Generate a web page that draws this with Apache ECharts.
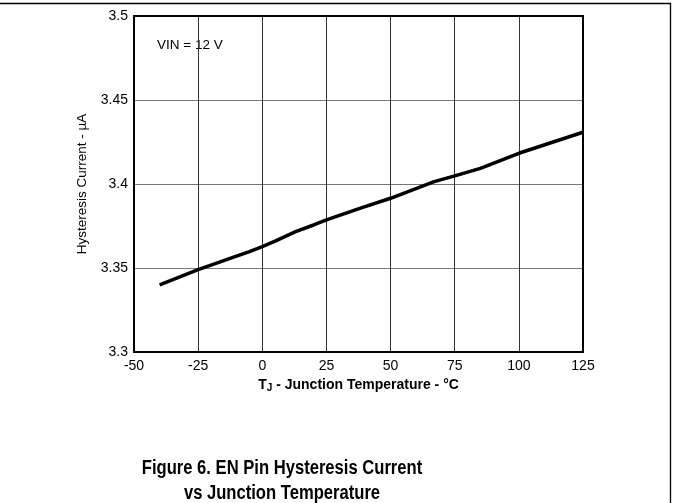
<!DOCTYPE html>
<html>
<head>
<meta charset="utf-8">
<script src="https://cdn.jsdelivr.net/npm/echarts@6/dist/echarts.min.js"></script>
<style>
html,body{margin:0;padding:0;background:#fff;}
#c{width:673px;height:503px;}
</style>
</head>
<body>
<div id="c"></div>
<script>
// Data
const tempC = [-40, -25, -12, -5, 0, 5, 13, 20, 25, 38, 50, 67, 75, 85, 100, 125];
const currentUA = [3.340, 3.349, 3.356, 3.3597, 3.3627, 3.366, 3.3716, 3.3756, 3.3786, 3.3855, 3.3915, 3.4014, 3.4048, 3.4093, 3.4183, 3.4308];
const xTicks = {min: -50, max: 125, step: 25};
const yTicks = {min: 3.3, max: 3.5, step: 0.05};
const annotation = 'VIN = 12 V';
const captionLines = ['Figure 6. EN Pin Hysteresis Current', 'vs Junction Temperature'];

const FONT = 'Liberation Sans, Arial, sans-serif';
const chart = echarts.init(document.getElementById('c'));

const borderLine = {show: true, onZero: false, lineStyle: {color: '#000', width: 2}};
const noShow = {show: false};

chart.setOption({
  animation: false,
  backgroundColor: '#fff',
  grid: {left: 134, right: 90, top: 16, bottom: 151},
  xAxis: [
    {
      type: 'value', position: 'bottom', min: xTicks.min, max: xTicks.max, interval: xTicks.step,
      z: 5, axisLine: borderLine, axisTick: noShow, splitLine: noShow,
      axisLabel: {color: '#000', fontFamily: FONT, fontSize: 14, margin: 7},
      name: '{b|T}{s|J}{b| - Junction Temperature - °C}',
      nameLocation: 'middle', nameGap: 19,
      nameTextStyle: {
        rich: {
          b: {fontFamily: FONT, fontSize: 14, fontWeight: 'bold', color: '#000'},
          s: {fontFamily: FONT, fontSize: 10, fontWeight: 'bold', color: '#000', verticalAlign: 'bottom', padding: [6, 0, 0, 0]}
        }
      }
    },
    {
      type: 'value', position: 'top', min: xTicks.min, max: xTicks.max, interval: xTicks.step,
      z: 5, axisLine: borderLine, axisTick: noShow, axisLabel: noShow, splitLine: noShow
    },
    {
      type: 'value', position: 'bottom', min: xTicks.min, max: xTicks.max, interval: xTicks.step,
      z: 0, axisLine: noShow, axisTick: noShow, axisLabel: noShow,
      splitLine: {show: true, lineStyle: {color: '#333', width: 1}}
    }
  ],
  yAxis: [
    {
      type: 'value', position: 'left', min: yTicks.min, max: yTicks.max, interval: yTicks.step,
      z: 5, axisLine: borderLine, axisTick: noShow, splitLine: noShow,
      axisLabel: {color: '#000', fontFamily: FONT, fontSize: 14, margin: 6},
      name: 'Hysteresis Current - µA', nameLocation: 'middle', nameGap: 45, nameRotate: 90,
      nameTextStyle: {fontFamily: FONT, fontSize: 13.5, color: '#000'}
    },
    {
      type: 'value', position: 'right', min: yTicks.min, max: yTicks.max, interval: yTicks.step,
      z: 5, axisLine: borderLine, axisTick: noShow, axisLabel: noShow, splitLine: noShow
    },
    {
      type: 'value', position: 'left', min: yTicks.min, max: yTicks.max, interval: yTicks.step,
      z: 0, axisLine: noShow, axisTick: noShow, axisLabel: noShow,
      splitLine: {show: true, lineStyle: {color: '#777', width: 1}}
    }
  ],
  series: [{
    type: 'line', xAxisIndex: 0, yAxisIndex: 0,
    data: tempC.map((t, i) => [t, currentUA[i]]),
    showSymbol: false, smooth: false,
    lineStyle: {color: '#000', width: 3.5},
    z: 3
  }],
  graphic: [
    {type: 'line', shape: {x1: 0, y1: 3.5, x2: 671, y2: 3.5}, style: {stroke: '#000', lineWidth: 1.3}},
    {type: 'line', shape: {x1: 670.5, y1: 3, x2: 670.5, y2: 503}, style: {stroke: '#000', lineWidth: 1.3}},
    {type: 'text', left: 157, top: 38, style: {text: annotation, font: '13.5px ' + FONT, fill: '#000'}},
    {type: 'text', x: 282, y: 456, scaleX: 0.83, style: {text: captionLines.join('\n'), font: 'bold 20px ' + FONT, fill: '#000', textAlign: 'center', lineHeight: 25}}
  ]
});
</script>
</body>
</html>
